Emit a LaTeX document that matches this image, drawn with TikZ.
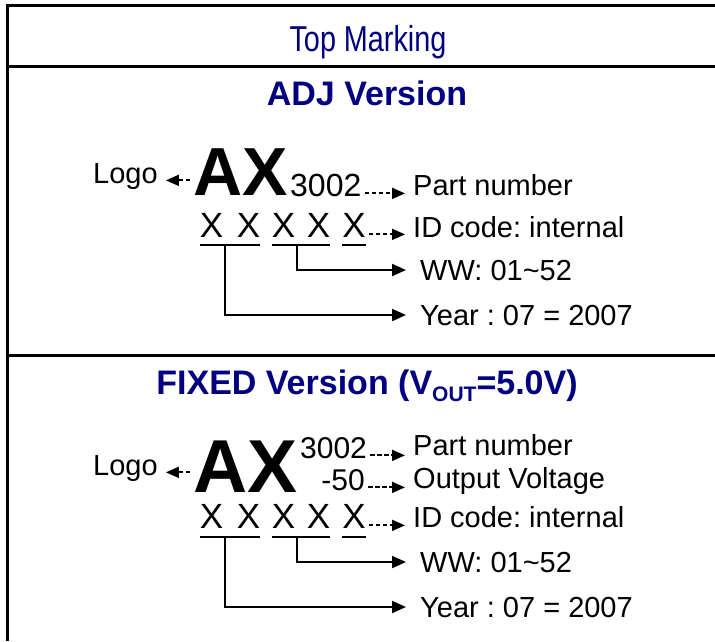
\documentclass[tikz,border=0pt]{standalone}
\usepackage{fontspec}
\setmainfont{Liberation Sans}
\newfontfamily\narrowfont[FakeStretch=0.8]{Liberation Sans}
\usetikzlibrary{arrows.meta}
\definecolor{markcolor0001}{RGB}{0,0,128}
\definecolor{markcolor0002}{RGB}{0,0,0}
\frenchspacing

\begin{document}
\begin{tikzpicture}[yscale=-1
            ,frameline/.style={color=markcolor0002,line width=3.0pt}
            ,ulline/.style={color=markcolor0002,line width=2.0pt}
            ,dashlead/.style={color=markcolor0002,line width=1.8pt,dash pattern=on 4.5pt off 2.5pt,-{Triangle[length=13pt,width=11pt]},shorten <=3pt,shorten >=8pt}
            ,solidlead/.style={color=markcolor0002,line width=2.0pt,-{Triangle[length=14pt,width=12pt]},shorten >=14pt}
            ,lbl/.style={anchor=base west,inner sep=0pt,color=markcolor0002,font=\fontsize{29pt}{31pt}\selectfont}
            ,xchar/.style={anchor=base,inner sep=0pt,color=markcolor0002,font=\fontsize{35pt}{37pt}\selectfont}
            ,heading/.style={anchor=base,inner sep=0pt,color=markcolor0001,font=\bfseries\fontsize{34pt}{36pt}\selectfont}
        ]
        \useasboundingbox (0pt,0pt) rectangle (715pt,641pt);
        \draw[frameline] (7pt,5pt) -- (715pt,5pt);
        \draw[frameline] (7pt,66pt) -- (715pt,66pt);
        \draw[frameline] (7pt,355pt) -- (715pt,355pt);
        \draw[frameline] (7pt,3.5pt) -- (7pt,641pt);
        \node (topttl) at (368pt,51pt)[anchor=base,inner sep=0pt,color=markcolor0001,font=\narrowfont\fontsize{36pt}{38pt}\selectfont]{Top Marking};
        \node (adjttl) at (367pt,105pt)[heading]{ADJ Version};
        \node (fixttl) at (367pt,394pt)[heading]{FIXED Version (V\raisebox{-0.22em}{\fontsize{21pt}{21pt}\selectfont OUT}=5.0V)};
        % ADJ version
        \node (logoA) at (93pt,183pt)[lbl]{Logo};
        \node (axA) at (193pt,195pt)[anchor=base west,inner sep=0pt,font=\bfseries\fontsize{68pt}{70pt}\selectfont]{AX};
        \node (pnA) at (290pt,196pt)[lbl,font=\fontsize{32pt}{34pt}\selectfont]{3002};
        \node (partA) at (413pt,195pt)[lbl]{Part number};
        \node (xA1) at (211.5pt,237pt)[xchar]{X};
        \node (xA2) at (248.5pt,237pt)[xchar]{X};
        \node (xA3) at (283.5pt,237pt)[xchar]{X};
        \node (xA4) at (318.5pt,237pt)[xchar]{X};
        \node (xA5) at (354pt,237pt)[xchar]{X};
        \node (idA) at (413pt,237pt)[lbl]{ID code: internal};
        \node (wwA) at (420pt,280pt)[lbl]{WW: 01\textasciitilde52};
        \node (yrA) at (420pt,325pt)[lbl]{Year : 07 = 2007};
        \coordinate (ulA) at (0pt,245pt);
        \coordinate (wwstartA) at (297pt,245pt);
        \coordinate (yrstartA) at (225pt,245pt);
        \draw[ulline] (xA1.west |- ulA) -- (xA2.east |- ulA);
        \draw[ulline] (xA3.west |- ulA) -- (xA4.east |- ulA);
        \draw[ulline] (xA5.west |- ulA) -- (xA5.east |- ulA);
        \draw[dashlead] (logoA.mid east -| axA.west) -- (logoA.mid east);
        \draw[dashlead] (pnA.mid east) -- (pnA.mid east -| partA.west);
        \draw[dashlead] (xA5.mid east) -- (xA5.mid east -| idA.west);
        \draw[solidlead] (wwstartA) |- (wwA.west);
        \draw[solidlead] (yrstartA) |- (yrA.west);
        % FIXED version
        \node (logoB) at (93pt,475pt)[lbl]{Logo};
        \node (axB) at (193pt,492pt)[anchor=base west,inner sep=0pt,font=\bfseries\fontsize{75pt}{77pt}\selectfont]{AX};
        \node (pnB) at (300pt,458pt)[lbl,font=\fontsize{30pt}{32pt}\selectfont]{3002};
        \node (vB) at (365pt,490pt)[lbl,anchor=base east,font=\fontsize{30pt}{32pt}\selectfont]{-50};
        \node (partB) at (413pt,455pt)[lbl]{Part number};
        \node (outB) at (413pt,488pt)[lbl]{Output Voltage};
        \node (xB1) at (211.5pt,528pt)[xchar]{X};
        \node (xB2) at (248.5pt,528pt)[xchar]{X};
        \node (xB3) at (283.5pt,528pt)[xchar]{X};
        \node (xB4) at (318.5pt,528pt)[xchar]{X};
        \node (xB5) at (354pt,528pt)[xchar]{X};
        \node (idB) at (413pt,527pt)[lbl]{ID code: internal};
        \node (wwB) at (420pt,572pt)[lbl]{WW: 01\textasciitilde52};
        \node (yrB) at (420pt,617pt)[lbl]{Year : 07 = 2007};
        \coordinate (ulB) at (0pt,537pt);
        \coordinate (wwstartB) at (297pt,537pt);
        \coordinate (yrstartB) at (225pt,537pt);
        \draw[ulline] (xB1.west |- ulB) -- (xB2.east |- ulB);
        \draw[ulline] (xB3.west |- ulB) -- (xB4.east |- ulB);
        \draw[ulline] (xB5.west |- ulB) -- (xB5.east |- ulB);
        \draw[dashlead] (logoB.mid east -| axB.west) -- (logoB.mid east);
        \draw[dashlead] (pnB.mid east) -- (pnB.mid east -| partB.west);
        \draw[dashlead] (vB.mid east) -- (vB.mid east -| outB.west);
        \draw[dashlead] (xB5.mid east) -- (xB5.mid east -| idB.west);
        \draw[solidlead] (wwstartB) |- (wwB.west);
        \draw[solidlead] (yrstartB) |- (yrB.west);
    \end{tikzpicture}
\end{document}
